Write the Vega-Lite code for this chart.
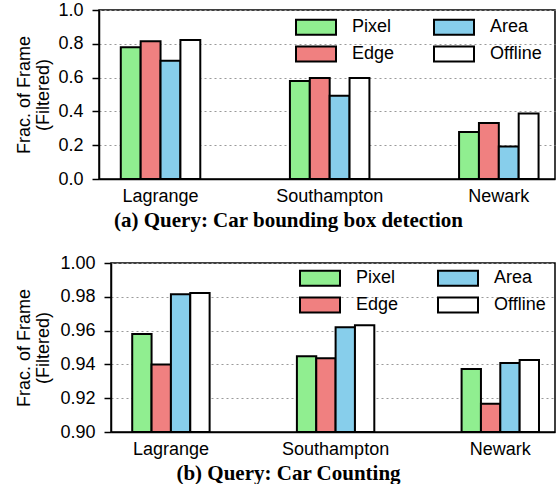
{
  "$schema": "https://vega.github.io/schema/vega-lite/v6.json",
  "background": "white",
  "padding": {"left": 13, "top": 0, "right": 0, "bottom": 0},
  "config": {
    "font": "Liberation Sans",
    "view": {"stroke": "black", "strokeWidth": 1.5},
    "axis": {
      "labelFont": "Liberation Sans", "labelFontSize": 18, "labelColor": "black",
      "titleFont": "Liberation Sans", "titleColor": "black", "titleFontWeight": "normal", "titleFontSize": 18,
      "domainColor": "black", "domainWidth": 1.5, "tickColor": "black", "tickWidth": 1.5
    },
    "legend": {
      "orient": "none", "columns": 2, "direction": "horizontal",
      "symbolType": "M-2,-0.75H2V0.75H-2Z", "symbolSize": 400,
      "symbolStrokeColor": "black", "symbolStrokeWidth": 2, "symbolOpacity": 1,
      "labelFont": "Liberation Sans", "labelFontSize": 18, "labelColor": "black",
      "labelOffset": 25, "columnPadding": 35, "rowPadding": 3, "padding": 0
    }
  },
  "datasets": {
    "a": [
      {"city": "Lagrange", "method": "Pixel", "value": 0.78},
      {"city": "Lagrange", "method": "Edge", "value": 0.815},
      {"city": "Lagrange", "method": "Area", "value": 0.70},
      {"city": "Lagrange", "method": "Offline", "value": 0.823},
      {"city": "Southampton", "method": "Pixel", "value": 0.58},
      {"city": "Southampton", "method": "Edge", "value": 0.598},
      {"city": "Southampton", "method": "Area", "value": 0.492},
      {"city": "Southampton", "method": "Offline", "value": 0.598},
      {"city": "Newark", "method": "Pixel", "value": 0.278},
      {"city": "Newark", "method": "Edge", "value": 0.331},
      {"city": "Newark", "method": "Area", "value": 0.192},
      {"city": "Newark", "method": "Offline", "value": 0.388}
    ],
    "b": [
      {"city": "Lagrange", "method": "Pixel", "value": 0.958},
      {"city": "Lagrange", "method": "Edge", "value": 0.940},
      {"city": "Lagrange", "method": "Area", "value": 0.9815},
      {"city": "Lagrange", "method": "Offline", "value": 0.9823},
      {"city": "Southampton", "method": "Pixel", "value": 0.9448},
      {"city": "Southampton", "method": "Edge", "value": 0.9436},
      {"city": "Southampton", "method": "Area", "value": 0.962},
      {"city": "Southampton", "method": "Offline", "value": 0.9631},
      {"city": "Newark", "method": "Pixel", "value": 0.9373},
      {"city": "Newark", "method": "Edge", "value": 0.9167},
      {"city": "Newark", "method": "Area", "value": 0.9408},
      {"city": "Newark", "method": "Offline", "value": 0.9426}
    ]
  },
  "spacing": 22,
  "resolve": {
    "scale": {"x": "independent", "y": "independent", "fill": "independent", "xOffset": "independent"},
    "axis": {"x": "independent", "y": "independent"},
    "legend": {"fill": "independent"}
  },
  "vconcat": [
    {
      "spacing": 0,
      "resolve": {
        "scale": {"x": "independent", "y": "independent", "fill": "independent", "xOffset": "independent"},
        "axis": {"x": "independent", "y": "independent"},
        "legend": {"fill": "independent"}
      },
      "hconcat": [
        {
          "width": 1, "height": 1,
          "view": {"stroke": null},
          "data": {"values": []},
          "mark": "point"
        },
        {
          "width": 456, "height": 169,
          "data": {"name": "a"},
          "mark": {"type": "bar", "stroke": "black", "strokeWidth": 2},
          "encoding": {
            "x": {
              "field": "city", "type": "nominal", "sort": ["Lagrange", "Southampton", "Newark"],
              "scale": {"paddingInner": 0.53, "paddingOuter": 0.113, "align": 0.57},
              "axis": {
                "title": "(a) Query: Car bounding box detection",
                "titleFont": "Liberation Serif", "titleFontWeight": "bold", "titleFontSize": 21,
                "titleX": 189, "titleAlign": "center",
                "labelAngle": 0, "ticks": false, "labelPadding": 8, "titlePadding": 4, "grid": false
              }
            },
            "xOffset": {
              "field": "method", "type": "nominal",
              "scale": {"domain": ["Pixel", "Edge", "Area", "Offline"], "paddingInner": 0, "paddingOuter": 0}
            },
            "y": {
              "field": "value", "type": "quantitative",
              "scale": {"domain": [0, 1]},
              "axis": {
                "title": ["Frac. of Frame", "(Filtered)"], "titleLineHeight": 19,
                "titleX": -74.5, "titleY": 84.5, "titleAlign": "center", "titleBaseline": "middle", "titleAngle": -90,
                "values": [0, 0.2, 0.4, 0.6, 0.8, 1.0], "format": ".1f",
                "grid": true, "gridDash": [2, 3], "gridColor": "#9a9a9a", "gridWidth": 1.2,
                "tickSize": 7, "labelPadding": 9
              }
            },
            "fill": {
              "field": "method", "type": "nominal",
              "scale": {"domain": ["Pixel", "Area", "Edge", "Offline"], "range": ["#90EE90", "#87CEEB", "#F08080", "#FFFFFF"]},
              "legend": {
                "title": null, "orient": "none", "legendX": 206, "legendY": 6,
                "encode": {"symbols": {"update": {"stroke": {"value": "black"}, "strokeWidth": {"value": 2}}}}
              }
            }
          }
        }
      ]
    },
    {
      "spacing": 0,
      "resolve": {
        "scale": {"x": "independent", "y": "independent", "fill": "independent", "xOffset": "independent"},
        "axis": {"x": "independent", "y": "independent"},
        "legend": {"fill": "independent"}
      },
      "hconcat": [
        {
          "width": 1, "height": 1,
          "view": {"stroke": null},
          "data": {"values": []},
          "mark": "point"
        },
        {
          "width": 444, "height": 169,
          "data": {"name": "b"},
          "mark": {"type": "bar", "stroke": "black", "strokeWidth": 2},
          "encoding": {
            "x": {
              "field": "city", "type": "nominal", "sort": ["Lagrange", "Southampton", "Newark"],
              "scale": {"paddingInner": 0.53, "paddingOuter": 0.113, "align": 0.57},
              "axis": {
                "title": "(b) Query: Car Counting",
                "titleFont": "Liberation Serif", "titleFontWeight": "bold", "titleFontSize": 21,
                "titleX": 177, "titleAlign": "center",
                "labelAngle": 0, "ticks": false, "labelPadding": 8, "titlePadding": 4, "grid": false
              }
            },
            "xOffset": {
              "field": "method", "type": "nominal",
              "scale": {"domain": ["Pixel", "Edge", "Area", "Offline"], "paddingInner": 0, "paddingOuter": 0}
            },
            "y": {
              "field": "value", "type": "quantitative",
              "scale": {"domain": [0.9, 1.0], "zero": false, "clamp": true},
              "axis": {
                "title": ["Frac. of Frame", "(Filtered)"], "titleLineHeight": 19,
                "titleX": -86.5, "titleY": 84.5, "titleAlign": "center", "titleBaseline": "middle", "titleAngle": -90,
                "values": [0.9, 0.92, 0.94, 0.96, 0.98, 1.0], "format": ".2f",
                "grid": true, "gridDash": [2, 3], "gridColor": "#9a9a9a", "gridWidth": 1.2,
                "tickSize": 7, "labelPadding": 9
              }
            },
            "fill": {
              "field": "method", "type": "nominal",
              "scale": {"domain": ["Pixel", "Area", "Edge", "Offline"], "range": ["#90EE90", "#87CEEB", "#F08080", "#FFFFFF"]},
              "legend": {
                "title": null, "orient": "none", "legendX": 198, "legendY": 4,
                "encode": {"symbols": {"update": {"stroke": {"value": "black"}, "strokeWidth": {"value": 2}}}}
              }
            }
          }
        }
      ]
    }
  ]
}
